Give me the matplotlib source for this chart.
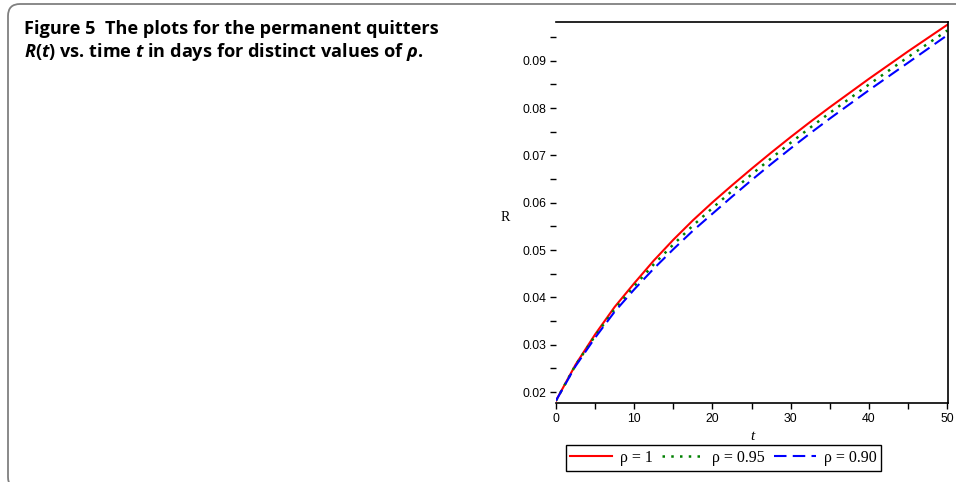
import matplotlib
matplotlib.use("Agg")
import matplotlib.pyplot as plt
from matplotlib.patches import FancyBboxPatch
from matplotlib.transforms import IdentityTransform
from matplotlib.ticker import MultipleLocator

# R(t), every 2.5 days
t = [0, 2.5, 5, 7.5, 10, 12.5, 15, 17.5, 20, 22.5, 25,
     27.5, 30, 32.5, 35, 37.5, 40, 42.5, 45, 47.5, 50]
R_rho100 = [0.0182, 0.0258, 0.0322, 0.0380, 0.0430, 0.0478, 0.0522, 0.0563, 0.0601, 0.0637, 0.0672,
            0.0706, 0.0739, 0.0771, 0.0802, 0.0832, 0.0862, 0.0891, 0.0920, 0.0948, 0.0976]
R_rho095 = [0.0182, 0.0257, 0.0319, 0.0375, 0.0424, 0.0470, 0.0512, 0.0552, 0.0589, 0.0625, 0.0660,
            0.0694, 0.0727, 0.0759, 0.0790, 0.0820, 0.0850, 0.0879, 0.0908, 0.0936, 0.0964]
R_rho090 = [0.0182, 0.0255, 0.0315, 0.0370, 0.0417, 0.0461, 0.0502, 0.0541, 0.0577, 0.0613, 0.0648,
            0.0682, 0.0715, 0.0747, 0.0778, 0.0808, 0.0838, 0.0867, 0.0896, 0.0925, 0.0954]
labels = ["ρ = 1", "ρ = 0.95", "ρ = 0.90"]

plt.rcParams['mathtext.fontset'] = 'custom'
plt.rcParams['mathtext.rm'] = 'Open Sans:bold'
plt.rcParams['mathtext.it'] = 'Open Sans:italic:bold'
plt.rcParams['mathtext.bf'] = 'Open Sans:bold'

fig = plt.figure(figsize=(9.56, 4.82), dpi=100)

# grey rounded frame of the figure panel (only top and left edges visible)
frame = FancyBboxPatch((8, -7), 992, 485, boxstyle="round,pad=0,rounding_size=12",
                       transform=IdentityTransform(), fill=False, edgecolor="#808080",
                       linewidth=1.3)
fig.add_artist(frame)

# caption
fig.text(24 / 956, 1 - 34 / 482, "Figure 5  The plots for the permanent quitters",
         family="Open Sans", weight="bold", fontsize=13.1, va="baseline")
fig.text(24 / 956, 1 - 57 / 482, r"$R$($t$) vs. time $t$ in days for distinct values of $\rho$.",
         family="Open Sans", weight="bold", fontsize=13.1, va="baseline")

ax = fig.add_axes([556 / 956, 1 - 403 / 482, 392 / 956, 381 / 482])
ax.plot(t, R_rho100, color="red", linewidth=1.5, label=labels[0])
ax.plot(t, R_rho095, color="green", linewidth=1.8, linestyle=(0, (1, 2.5)), label=labels[1])
ax.plot(t, R_rho090, color="blue", linewidth=1.5, linestyle=(0, (6, 3)), label=labels[2])

ax.set_xlim(0, 50.1)
ax.set_ylim(0.0177, 0.0982)
ax.spines['left'].set_visible(False)
for s in ['top', 'right', 'bottom']:
    ax.spines[s].set_linewidth(1.2)

ax.xaxis.set_major_locator(MultipleLocator(10))
ax.xaxis.set_minor_locator(MultipleLocator(5))
ax.yaxis.set_minor_locator(MultipleLocator(0.005))
ax.set_yticks([0.02, 0.03, 0.04, 0.05, 0.06, 0.07, 0.08, 0.09])
ax.set_yticklabels(["0.02", "0.03", "0.04", "0.05", "0.06", "0.07", "0.08", "0.09"])
ax.tick_params(which="both", direction="out", length=4, width=1, labelsize=8.8, pad=3)
for lab in ax.get_xticklabels() + ax.get_yticklabels():
    lab.set_family("Liberation Sans")

ax.set_xlabel("t", family="Liberation Serif", style="italic", fontsize=11)
ax.xaxis.set_label_coords(0.5, -0.089)
ax.xaxis.label.set_va("center")
ax.set_ylabel("R", family="Liberation Serif", fontsize=10, rotation=0)
ax.yaxis.set_label_coords(-0.130, 0.486)
ax.yaxis.label.set_va("center")
ax.yaxis.label.set_ha("center")

leg = ax.legend(loc="center", bbox_to_anchor=(723.5 / 956, 1 - 458 / 482),
                bbox_transform=fig.transFigure, ncol=3, frameon=True, fancybox=False,
                edgecolor="black", framealpha=1, handlelength=2.6, handletextpad=0.5,
                columnspacing=0.6, borderpad=0.3, prop={"family": "Liberation Serif", "size": 11.5})
leg.get_frame().set_linewidth(1.0)

fig.savefig("out.png", dpi=100)
